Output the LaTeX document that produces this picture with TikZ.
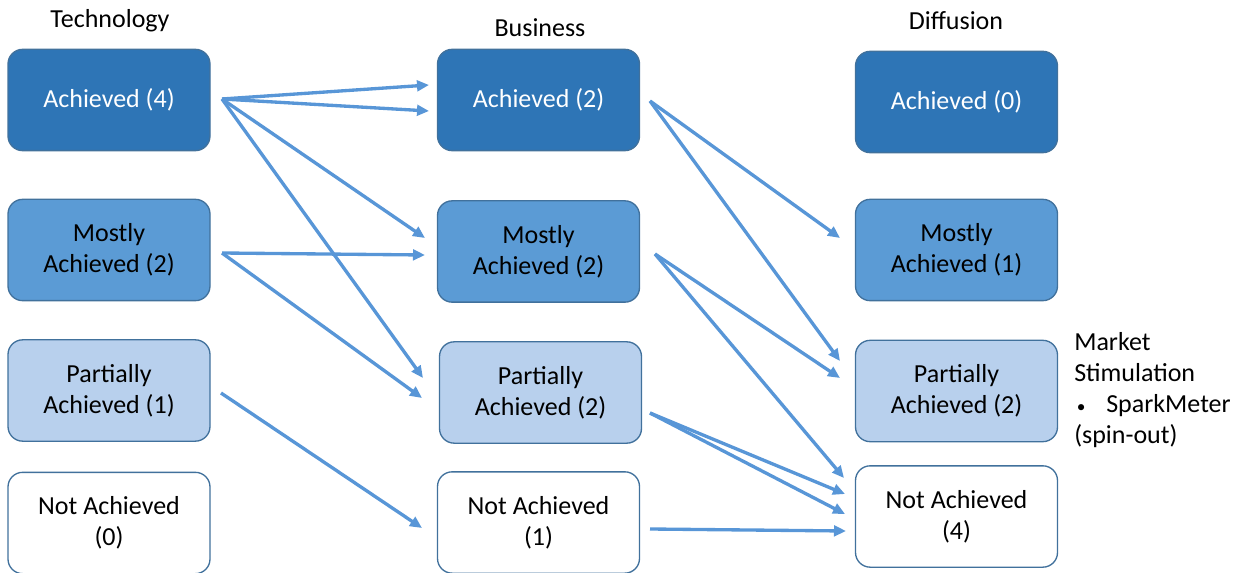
\documentclass[tikz,border=0pt]{standalone}
\usepackage{fontspec}
\setmainfont{Carlito}
\usetikzlibrary{arrows.meta,calc}
\definecolor{cdark}{RGB}{46,117,182}
\definecolor{cmid}{RGB}{91,155,213}
\definecolor{clight}{RGB}{184,208,237}
\definecolor{cedge}{RGB}{65,113,156}
\definecolor{carrow}{RGB}{88,150,215}
\begin{document}
\begin{tikzpicture}[x=0.75pt,y=-0.75pt,
  box/.style={draw=cedge,line width=1pt,rounded corners=11pt,minimum width=151.5pt,minimum height=76pt,align=center,font=\fontsize{19.5}{23.3}\selectfont,inner sep=0pt},
  dark/.style={box,fill=cdark,text=white},
  mid/.style={box,fill=cmid,text=black},
  light/.style={box,fill=clight,text=black},
  plain/.style={box,fill=white,text=black},
  head/.style={font=\fontsize{19.5}{23.3}\selectfont,inner sep=0pt},
  arr/.style={draw=carrow,line width=2.5pt,-{Triangle[length=9pt,width=8pt]}}]
\useasboundingbox (0,0) rectangle (1242,573);
% Headers
\node[head] (hT) at (110,21) {Technology};
\node[head] (hB) at (540,28) {Business};
\node[head] (hD) at (956,21) {Diffusion};
% Technology column
\node[dark]  (T1) at (109,100)    {Achieved (4)};
\node[mid]   (T2) at (109,250)   {Mostly\\Achieved (2)};
\node[light] (T3) at (109,390.5) {Partially\\Achieved (1)};
\node[plain] (T4) at (109,523)   {Not Achieved\\(0)};
% Business column
\node[dark]  (B1) at (538.5,100)    {Achieved (2)};
\node[mid]   (B2) at (538.5,251.5) {Mostly\\Achieved (2)};
\node[light] (B3) at (540.5,392.5) {Partially\\Achieved (2)};
\node[plain] (B4) at (538.5,522.5) {Not Achieved\\(1)};
% Diffusion column
\node[dark]  (D1) at (956.5,102) {Achieved (0)};
\node[mid]   (D2) at (956.5,250) {Mostly\\Achieved (1)};
\node[light] (D3) at (956.5,391) {Partially\\Achieved (2)};
\node[plain] (D4) at (956.5,516.5) {Not Achieved\\(4)};
% Side note
\node[head,anchor=north west,align=left] (note) at (1074,332)
  {Market\\Stimulation\\\makebox[24pt][l]{\hspace{2pt}{\fontsize{13}{13}\selectfont •}}SparkMeter\\(spin-out)};
% Arrow start points
\coordinate (sT1) at (222,99);
\coordinate (sT2) at (222,253);
\coordinate (sT3) at (221,393);
\coordinate (sB1) at (650,101);
\coordinate (sB2) at (655,254);
\coordinate (sB3) at (650,413);
\coordinate (sB4) at (650,529);
% Arrow tips
\coordinate (eB1a) at (429,85);
\coordinate (eB1b) at (429,111);
\coordinate (eB2a) at (425,238);
\coordinate (eB2b) at (425,255);
\coordinate (eB3a) at (423,378);
\coordinate (eB3b) at (422,398);
\coordinate (eB4)  at (422,528);
\coordinate (eD2)  at (840,238);
\coordinate (eD3a) at (840,361);
\coordinate (eD3b) at (840,378);
\coordinate (eD4a) at (844,478);
\coordinate (eD4b) at (845,494);
\coordinate (eD4c) at (845,514);
\coordinate (eD4d) at (846,531);
% Arrows
\draw[arr] (sT1) -- (eB1a);
\draw[arr] (sT1) -- (eB1b);
\draw[arr] (sT1) -- (eB2a);
\draw[arr] (sT1) -- (eB3a);
\draw[arr] (sT2) -- (eB2b);
\draw[arr] (sT2) -- (eB3b);
\draw[arr] (sT3) -- (eB4);
\draw[arr] (sB1) -- (eD2);
\draw[arr] (sB1) -- (eD3a);
\draw[arr] (sB2) -- (eD3b);
\draw[arr] (sB2) -- (eD4a);
\draw[arr] (sB3) -- (eD4b);
\draw[arr] (sB3) -- (eD4c);
\draw[arr] (sB4) -- (eD4d);
\end{tikzpicture}
\end{document}
